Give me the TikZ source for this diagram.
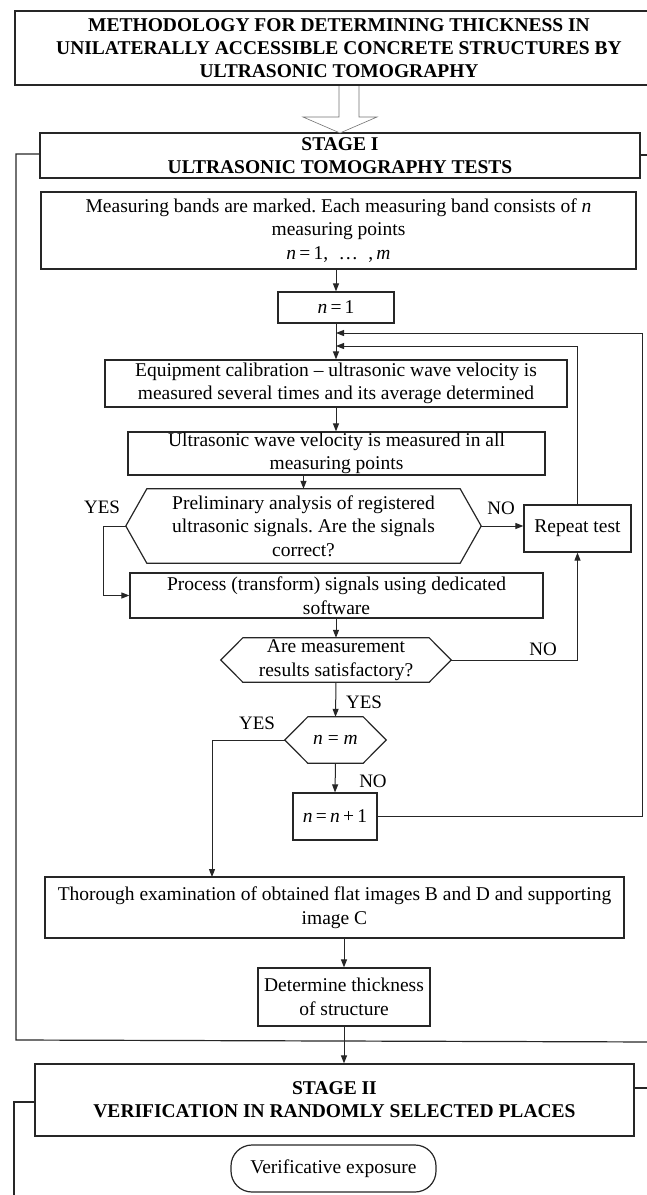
\documentclass[tikz,border=0pt]{standalone}
\usepackage{fontspec}
\setmainfont{Liberation Serif}
\usetikzlibrary{arrows.meta,calc}
\frenchspacing

% outline of a flat hexagon drawn around a (borderless) node
\newcommand\hexoutline[2]{%
  \draw[ln] (#1.west) -- ([xshift=#2]#1.north west) -- ([xshift=-#2]#1.north east)
    -- (#1.east) -- ([xshift=-#2]#1.south east) -- ([xshift=#2]#1.south west) -- cycle;}

\begin{document}
\begin{tikzpicture}[x=1pt,y=-1pt,
  every node/.style={font=\fontsize{19.5}{23.5}\selectfont, inner sep=0pt, align=center},
  ln/.style={line width=1.2pt, draw=black!85},
  bx/.style 2 args={draw=black!85, line width=1.2pt, minimum width=#1, minimum height=#2},
  hx/.style 2 args={minimum width=#1, minimum height=#2},
  hd/.style={font=\bfseries\fontsize{19.5}{23}\selectfont},
  lbl/.style={font=\fontsize{19}{22}\selectfont},
  arr/.style={line width=1pt, draw=black!85, -{Triangle[length=8pt,width=6pt]}},
  hollow/.style={line width=0.6pt, draw=black!55, fill=white}
]
\useasboundingbox (0,0) rectangle (647,1195);

% ---------- heading ----------
\node[bx={648pt}{74pt}, hd] (title) at (339,48)
  {METHODOLOGY FOR DETERMINING THICKNESS IN\\
   UNILATERALLY ACCESSIBLE CONCRETE STRUCTURES BY\\
   ULTRASONIC TOMOGRAPHY};

% ---------- stage I ----------
\node[bx={600pt}{45pt}, hd] (stage1) at (340,155.5)
  {STAGE I\\ULTRASONIC TOMOGRAPHY TESTS};

% hollow arrow from heading to stage I
\draw[hollow] (339,86) -- (339,117) -- (303,117) -- (340,133) -- (377,117) -- (359,117) -- (359,86);

% frame around stage I
\draw[ln] (stage1.west |- 0,154) -- (16,154) -- (16,1040) -- (660,1042);
\draw[ln] (stage1.east |- 0,155) -- (660,155);

\node[bx={595pt}{77pt}] (bands) at (338.5,230.5)
  {Measuring bands are marked. Each measuring band consists of \textit{n}\\
   measuring points\\
   \textit{n}\,=\,1,\; \dots\; ,\,\textit{m}};

\node[bx={116pt}{31pt}] (n1) at (336,307.5) {\textit{n}\,=\,1};

\node[bx={462pt}{47pt}] (calib) at (336,383.5)
  {Equipment calibration -- ultrasonic wave velocity is\\
   measured several times and its average determined};

\node[bx={417pt}{43pt}] (velo) at (336.5,453.5)
  {Ultrasonic wave velocity is measured in all\\measuring points};

\node[hx={355pt}{74pt}] (prelim) at (303.5,526)
  {Preliminary analysis of registered\\
   ultrasonic signals. Are the signals\\
   correct?};
\hexoutline{prelim}{21pt}

\node[bx={107pt}{47pt}] (repeat) at (577.5,528.5) {Repeat test};

\node[bx={413pt}{45pt}] (process) at (336.5,595.5)
  {Process (transform) signals using dedicated\\software};

\node[hx={230pt}{44pt}] (satis) at (336,660)
  {Are measurement\\results satisfactory?};
\hexoutline{satis}{22pt}

\node[hx={101pt}{46pt}] (nm) at (335.5,740) {\textit{n} = \textit{m}};
\hexoutline{nm}{23pt}

\node[bx={84pt}{47pt}] (nnext) at (335,816.5) {\textit{n}\,=\,\textit{n}\,+\,1};

\node[bx={579pt}{61pt}] (exam) at (334.5,907.5)
  {Thorough examination of obtained flat images B and D and supporting\\image C};

\node[bx={172pt}{58pt}] (thick) at (344,997)
  {Determine thickness\\of structure};

% ---------- stage II ----------
\node[bx={599pt}{72pt}, hd] (stage2) at (334.5,1100)
  {STAGE II\\VERIFICATION IN RANDOMLY SELECTED PLACES};

\draw[ln] (stage2.west |- 0,1102) -- (14,1102) -- (14,1200);
\draw[ln] (stage2.east |- 0,1088) -- (660,1088);

\node[draw=black!85, line width=1.2pt, rounded corners=21pt,
      minimum width=205pt, minimum height=47pt] (verif) at (333.5,1168.5)
  {Verificative exposure};

% ---------- labels ----------
\node[lbl] (yes1) at (102,507) {YES};
\node[lbl] (no1)  at (501,508) {NO};
\node[lbl] (no2)  at (543,649) {NO};
\node[lbl] (yes2) at (364,702) {YES};
\node[lbl] (yes3) at (257,723) {YES};
\node[lbl] (no3)  at (373,781) {NO};

% ---------- junctions on the main line ----------
\coordinate (j1) at (336,333);
\coordinate (j2) at (336,346);
\coordinate (loopR) at (642,333);
\coordinate (yesL) at (103,526);
\coordinate (yesEx) at (212,877);

% ---------- connectors ----------
\draw[arr] (n1.north |- bands.south) -- (n1.north);
\draw[arr] (n1.south) -- (calib.north);
\draw[arr] (calib.south) -- (velo.north -| calib.south);
\draw[arr] (prelim.north |- velo.south) -- (prelim.north);
\draw[arr] (prelim.east) -- (prelim.east -| repeat.west);
\draw[arr] (prelim.west) -- (yesL) |- (process.west);
\draw[arr] (repeat.north) |- (j2);
\draw[arr] (satis.north |- process.south) -- (satis.north);
\draw[arr] (satis.east) -| (repeat.south);
\draw[arr] (satis.south) -- (nm.north);
\draw[arr] (nm.south) -- (nnext.north);
\draw[arr] (nnext.east) -- (nnext.east -| loopR) -- (loopR) -- (j1);
\draw[arr] (nm.west) -| (yesEx);
\draw[arr] (thick.north |- exam.south) -- (thick.north);
\draw[arr] (thick.south) -- (thick.south |- stage2.north);

\end{tikzpicture}
\end{document}
